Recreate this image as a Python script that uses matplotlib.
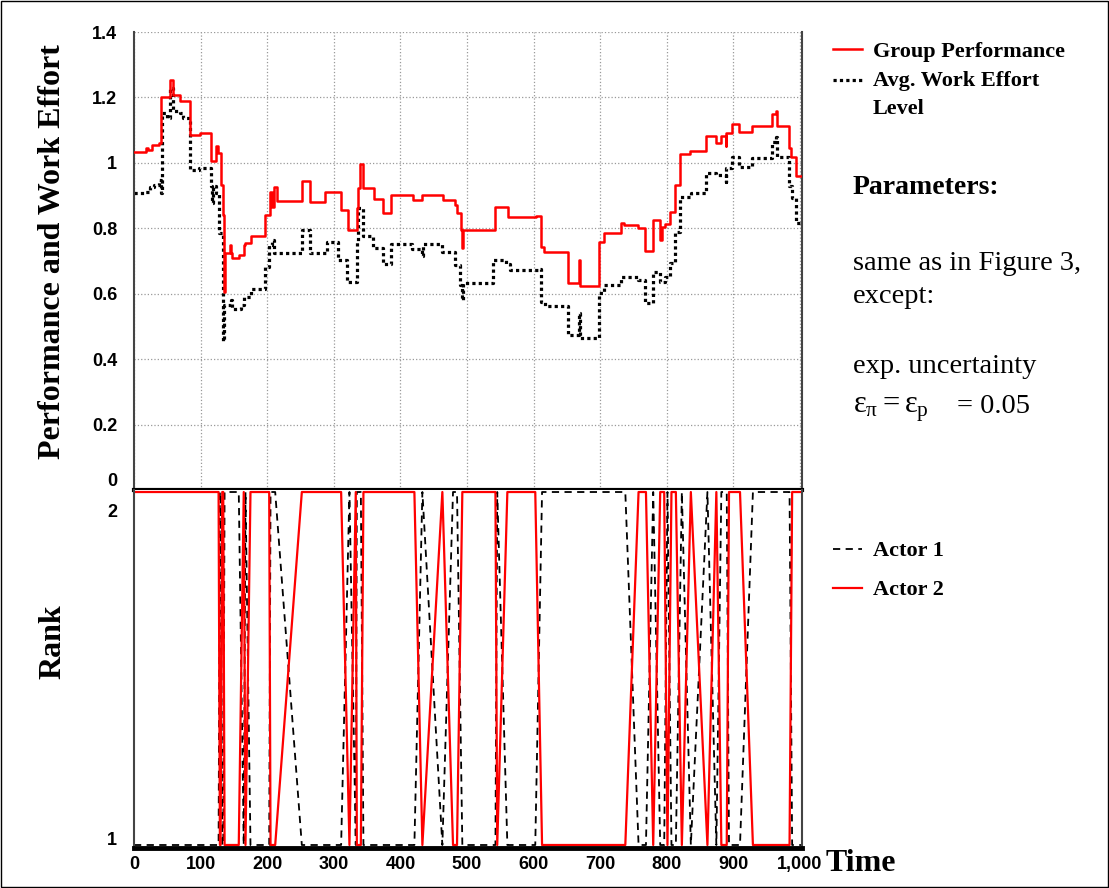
import numpy as np
import matplotlib
matplotlib.use('Agg')
import matplotlib.pyplot as plt
from matplotlib.lines import Line2D
from matplotlib.patches import Rectangle
from matplotlib.transforms import ScaledTranslation

plt.rcParams['font.family'] = 'Liberation Serif'
plt.rcParams['mathtext.fontset'] = 'custom'
plt.rcParams['mathtext.rm'] = 'Liberation Serif'
plt.rcParams['mathtext.it'] = 'Liberation Serif'
plt.rcParams['mathtext.bf'] = 'Liberation Serif:bold'

# group performance (red step line), time of each step and its level
perf_t = [0, 17.7, 21, 27.7, 37.6, 41, 54, 59, 69, 83.5, 98.5, 115, 122.5, 126, 130, 133,
          134.5, 136, 144, 145, 147, 157, 165, 166.5, 175, 197, 204, 207, 209.5, 215, 252,
          264, 287, 310.6, 322, 335, 337, 339.5, 343.5, 361, 374, 386, 419.5, 432, 464.3,
          481.7, 484.3, 490.3, 492.5, 493.3, 541.6, 562, 604, 611.5, 615, 651.4, 668.9,
          669.5, 697.8, 706.3, 731.3, 736.2, 756.2, 767.7, 779.6, 789.6, 790.5, 793.5, 797.5,
          805, 812, 819.6, 834.6, 858.5, 874.4, 881, 888.5, 889.5, 898.4, 908.4, 928.3, 957.3,
          964.2, 965, 983.2, 987.2, 994.2, 1002]
perf_v = [1.033, 1.045, 1.038, 1.055, 1.06, 1.2, 1.254, 1.206, 1.19, 1.086, 1.091, 1.006,
          1.05, 1.031, 0.933, 0.841, 0.606, 0.724, 0.749, 0.724, 0.709, 0.719, 0.749, 0.756,
          0.777, 0.841, 0.912, 0.866, 0.925, 0.882, 0.945, 0.879, 0.912, 0.856, 0.795, 0.861,
          0.922, 0.996, 0.922, 0.89, 0.846, 0.902, 0.887, 0.902, 0.887, 0.872, 0.846, 0.795,
          0.739, 0.795, 0.864, 0.833, 0.838, 0.742, 0.726, 0.632, 0.703, 0.624, 0.759, 0.787,
          0.816, 0.81, 0.8, 0.731, 0.824, 0.813, 0.765, 0.805, 0.813, 0.851, 0.933, 1.026,
          1.035, 1.083, 1.062, 1.083, 1.05, 1.091, 1.119, 1.093, 1.113, 1.15, 1.16, 1.113,
          1.045, 1.019, 0.961, 0.961]

# average work effort level (black dotted step line)
effort_t = [0, 17, 24, 30, 38, 40.5, 41.5, 50, 54, 58, 69, 74, 83.5, 98, 115, 117, 119, 122.5,
            127.5, 133.5, 135, 145, 147.4, 160, 164.8, 175, 197.3, 202.3, 207.3, 210.8, 252.2,
            264.7, 289.6, 307, 319.6, 334.6, 337, 344.5, 359.4, 373.5, 385.5, 417, 432, 433.5,
            461.8, 481.7, 489.2, 492.5, 493.5, 539, 559, 564, 606.4, 611.5, 616.5, 651.4,
            668.9, 669.5, 697.8, 706.3, 731.3, 756.2, 767.7, 779.6, 789.6, 797.5, 805, 812,
            819.6, 836, 858.5, 874.4, 888.5, 889.5, 898.4, 908.4, 928.3, 957.3, 964.2, 965,
            983.2, 988.2, 994.2, 1002]
effort_v = [0.909, 0.912, 0.925, 0.933, 0.948, 0.907, 1.152, 1.137, 1.228, 1.157, 1.152, 1.137,
            0.979, 0.985, 0.928, 0.877, 0.928, 0.907, 0.785, 0.454, 0.566, 0.581, 0.552, 0.566,
            0.591, 0.614, 0.683, 0.749, 0.765, 0.724, 0.795, 0.724, 0.759, 0.703, 0.635, 0.76,
            0.861, 0.775, 0.739, 0.691, 0.752, 0.736, 0.716, 0.752, 0.726, 0.688, 0.627, 0.581,
            0.632, 0.703, 0.69, 0.673, 0.676, 0.576, 0.563, 0.474, 0.54, 0.466, 0.601, 0.627,
            0.652, 0.642, 0.573, 0.665, 0.637, 0.652, 0.693, 0.79, 0.897, 0.907, 0.969, 0.964,
            0.943, 0.984, 1.019, 0.987, 1.014, 1.065, 1.08, 1.017, 0.928, 0.892, 0.816, 0.816]

# ranks of the two actors
rank_t = [0, 127, 129, 130, 132.5, 134, 136, 157.3, 164.8, 167.4, 174.9, 203, 205, 212, 252,
          311, 323.5, 333, 334.6, 340.6, 344.5, 421, 433, 463, 479, 485, 493, 542.7, 545.4,
          560.6, 602.5, 612.7, 737.7, 757.6, 768.7, 779.6, 790.1, 796.1, 801, 807, 813.6,
          822.6, 836.1, 861, 874.4, 881.9, 890, 893.4, 909.9, 929.3, 984.3, 988.2, 1002]
actor2_rank = [2, 2, 1, 1, 2, 2, 1, 1, 2, 1, 2, 2, 1, 1, 2, 2, 1, 2, 1, 1, 2, 2, 1, 2, 1, 1,
               2, 2, 1, 2, 2, 1, 1, 2, 2, 1, 2, 2, 1, 2, 2, 1, 2, 1, 2, 1, 1, 2, 2, 1, 1, 2, 2]
actor1_rank = [1, 1, 2, 2, 1, 1, 2, 2, 1, 2, 1, 1, 2, 2, 1, 1, 2, 1, 2, 2, 1, 1, 2, 1, 2, 2,
               1, 1, 2, 1, 1, 2, 2, 1, 1, 2, 1, 1, 2, 1, 1, 2, 1, 2, 1, 2, 2, 1, 1, 2, 2, 1, 1]

perf_ticks = [0, 0.2, 0.4, 0.6, 0.8, 1.0, 1.2, 1.4]
perf_labels = ['0', '0.2', '0.4', '0.6', '0.8', '1', '1.2', '1.4']
time_ticks = [0, 100, 200, 300, 400, 500, 600, 700, 800, 900, 1000]
time_labels = ['0', '100', '200', '300', '400', '500', '600', '700', '800', '900', '1,000']

W, H = 1109, 888
def fx(px):
    return px / W
def fy(py):
    return 1 - py / H

fig = plt.figure(figsize=(W / 100, H / 100), dpi=100)
ax1 = fig.add_axes([fx(134), fy(490), fx(802) - fx(134), fy(32) - fy(490)])
ax2 = fig.add_axes([fx(134), fy(848), fx(802) - fx(134), fy(490) - fy(848)])

tickfont = dict(fontfamily='Liberation Sans', fontweight='bold', fontsize=13)

# top panel
ax1.step(perf_t, perf_v, where='post', color='red', lw=1.8, zorder=3)
ax1.step(effort_t, effort_v, where='post', color='black', lw=2.3,
         linestyle=(0, (1, 1)), zorder=2)
ax1.set_xlim(0, 1003)
ax1.set_ylim(0, 1.4)
ax1.set_xticks(time_ticks)
ax1.set_xticklabels([])
ax1.set_yticks(perf_ticks, perf_labels, **tickfont)
ax1.grid(True, color='#999999', linestyle=':', lw=0.9)
ax1.tick_params(length=0)
ax1.tick_params(axis='y', pad=12)
ax1.get_yticklabels()[0].set_va('bottom')
ax1.spines['top'].set_visible(False)
for s in ['left', 'right']:
    ax1.spines[s].set_color('#444444')
    ax1.spines[s].set_linewidth(1.5)
ax1.spines['bottom'].set_linewidth(3)
ax1.spines['bottom'].set_zorder(5)

# bottom panel
ax2.plot(rank_t, actor1_rank, color='black', lw=1.3, dashes=(4, 3))
ax2.plot(rank_t, actor2_rank, color='red', lw=1.6)
ax2.set_xlim(0, 1003)
ax2.set_ylim(0.9915, 2.0057)
ax2.set_xticks(time_ticks, time_labels, **tickfont)
ax2.set_yticks([1, 2], ['1', '2'], **tickfont)
ax2.tick_params(length=0)
ax2.tick_params(axis='y', pad=12)
ax2.tick_params(axis='x', pad=6)
lab1, lab2 = ax2.get_yticklabels()
lab1.set_transform(lab1.get_transform() + ScaledTranslation(0, 5 / 72, fig.dpi_scale_trans))
lab2.set_transform(lab2.get_transform() + ScaledTranslation(0, -13 / 72, fig.dpi_scale_trans))
for s in ['left', 'right']:
    ax2.spines[s].set_color('#444444')
    ax2.spines[s].set_linewidth(1.5)
ax2.spines['top'].set_visible(False)
ax2.spines['bottom'].set_linewidth(3.5)

# axis titles
fig.text(fx(53), fy(252), 'Performance and Work Effort', rotation=90, ha='center',
         va='center', fontsize=23, fontweight='bold')
fig.text(fx(53), fy(642), 'Rank', rotation=90, ha='center', va='center',
         fontsize=23, fontweight='bold')
fig.text(fx(861), fy(863), 'Time', ha='center', va='center', fontsize=23, fontweight='bold')

# legend of top panel
fig.add_artist(Line2D([fx(833), fx(862)], [fy(49), fy(49)], color='red', lw=1.8))
fig.add_artist(Line2D([fx(833), fx(862)], [fy(80), fy(80)], color='black', lw=2.3,
                      linestyle=(0, (1, 1))))
fig.text(fx(873), fy(57), 'Group Performance', fontsize=16, fontweight='bold', va='baseline')
fig.text(fx(873), fy(86), 'Avg. Work Effort', fontsize=16, fontweight='bold', va='baseline')
fig.text(fx(873), fy(114), 'Level', fontsize=16, fontweight='bold', va='baseline')

# legend of bottom panel
fig.add_artist(Line2D([fx(833), fx(862)], [fy(549), fy(549)], color='black', lw=1.3,
                      dashes=(4, 3)))
fig.add_artist(Line2D([fx(833), fx(862)], [fy(588), fy(588)], color='red', lw=1.6))
fig.text(fx(873), fy(556), 'Actor 1', fontsize=16, fontweight='bold', va='baseline')
fig.text(fx(873), fy(595), 'Actor 2', fontsize=16, fontweight='bold', va='baseline')

# parameter notes
fig.text(fx(853), fy(194), 'Parameters:', fontsize=20, fontweight='bold', va='baseline')
fig.text(fx(853), fy(270), 'same as in Figure 3,', fontsize=20.5, va='baseline')
fig.text(fx(853), fy(303), 'except:', fontsize=20.5, va='baseline')
fig.text(fx(853), fy(373), 'exp. uncertainty', fontsize=20.5, va='baseline')
fig.text(fx(853), fy(413), r'$ε_{π} = ε_{\mathrm{p}}$', fontsize=22, va='baseline')
fig.text(fx(957), fy(413), '= 0.05', fontsize=20.5, va='baseline')

fig.add_artist(Rectangle((0.0009, 0.0011), 0.9982, 0.9978, transform=fig.transFigure,
                         fill=False, lw=1, ec='black'))

plt.savefig('out.png', dpi=100)
